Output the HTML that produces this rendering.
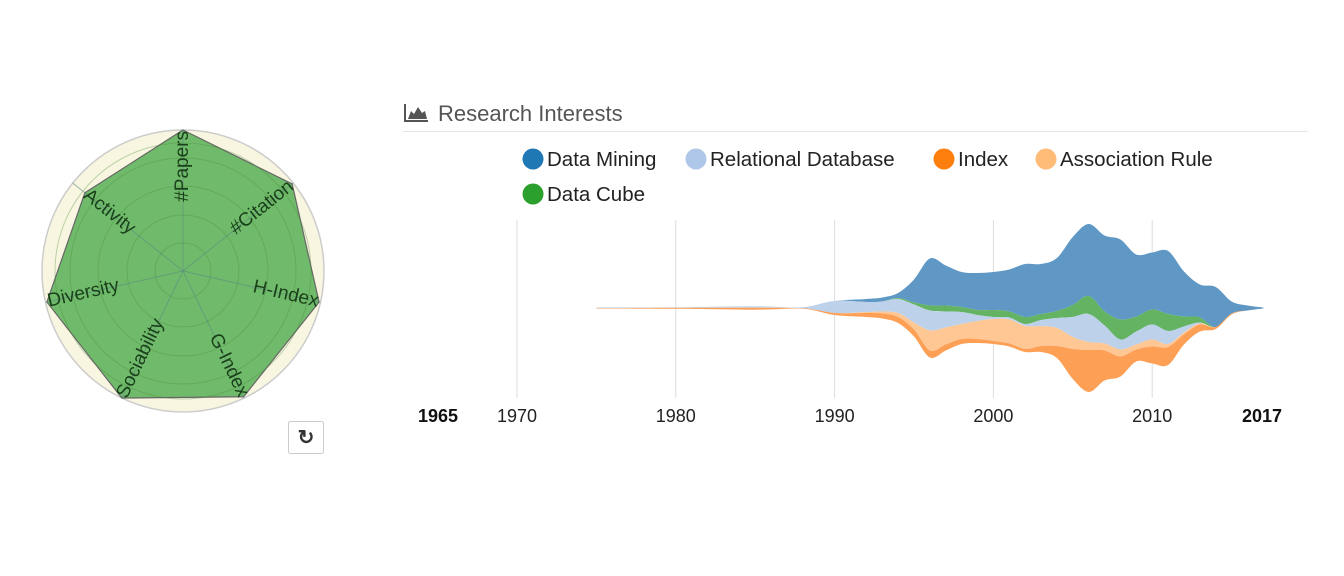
<!DOCTYPE html>
<html><head><meta charset="utf-8"><style>
body{margin:0;width:1344px;height:576px;background:#fff;overflow:hidden;font-family:"Liberation Sans",sans-serif}
svg{position:absolute;left:0;top:0}
</style></head><body>
<svg id="s" width="1344" height="576">
<g id="radar"></g>
<g>
<rect x="288.5" y="421.5" width="35" height="32" rx="2" fill="#fff" stroke="#ccc"/>
<text x="306" y="444" text-anchor="middle" font-size="20" font-weight="bold" fill="#333">↻</text>
</g>
<g>
<path d="M404 104 V122 H428 V120 H406 V104 Z M408 119 L411 111 L414 114 L418 107 L422 113 L425 111 L427 119 Z" fill="#555"/>
<text x="438" y="121" font-size="22" fill="#555">Research Interests</text>
<line x1="403" y1="131.5" x2="1308" y2="131.5" stroke="#e5e5e5"/>
</g>
<g id="legend"></g>
<g id="stream"></g>
</svg>
<script>
const NS='http://www.w3.org/2000/svg';
function mk(p,t,a){const e=document.createElementNS(NS,t);for(const k in a)e.setAttribute(k,a[k]);p.appendChild(e);return e;}
// radar data
const radarAxes=['#Papers','#Citation','H-Index','G-Index','Sociability','Diversity','Activity'];
const radarValues=[1.0,0.99,0.99,0.99,1.0,0.99,0.89];
// stream data
const years=[1975,1980,1985,1988,1990,1992,1993,1994,1995,1996,1997,1998,1999,2000,2001,2002,2003,2004,2005,2006,2007,2008,2009,2010,2011,2012,2013,2014,2015,2016,2017];
const dataMining=[0,0,0,0,0,3,4,5,23,47,40,35,37,38,42,53,50,53,68,72,76,80,62,57,63,45,33,40,12,5,1];
const dataCube=[0,0,0,0,0,0,0,1,2,5,6,5,5,7,6,7,6,7,12,18,14,20,15,15,17,10,5,0,0,0,0];
const relationalDb=[0.5,0.5,1.5,1,12,10,10,14,18,20,16,12,6,2,2,2,6,10,20,28,18,10,13,15,13,6,1,0,0,0,0];
const associationRule=[0,0,0,0,0,1,2,4,7,20,17,15,18,22,24,23,20,18,12,8,7,7,5,7,3,2,1,0,0,0,0];
const indexSeries=[0.5,1,2,0.5,2,4,5,6,7,7,6,5,4,3,3,3,6,12,30,42,30,20,12,17,18,10,7,2,1,0,0];
const tickYears=[1970,1980,1990,2000,2010];
const edgeLabels=['1965','2017'];

// radar
const R=document.getElementById('radar');
const cx=183,cy=271,rad=141;
mk(R,'circle',{cx,cy,r:rad,fill:'#f8f6e0',stroke:'#ccc','stroke-width':1.5});
function pt(i,r){const a=i*2*Math.PI/7;return [cx+r*Math.sin(a),cy-r*Math.cos(a)];}
const poly=radarValues.map((v,i)=>pt(i,v*rad).join(',')).join(' ');
const pg=mk(R,'polygon',{points:poly,fill:'#5cb35a','fill-opacity':0.88,stroke:'#666','stroke-width':1.2});


[28,56,85,113,128].forEach(r=>mk(R,'circle',{cx,cy,r,fill:'none',stroke:'#4a8a3a','stroke-opacity':0.35}));
radarAxes.forEach((n,i)=>{const p=pt(i,rad);mk(R,'line',{x1:cx,y1:cy,x2:p[0],y2:p[1],stroke:'#5a8a80','stroke-opacity':0.6});});
radarAxes.forEach((n,i)=>{const deg=i*360/7;const p=pt(i,radarValues[i]*rad-1);
 const right=deg<180;const rot=right?deg-90:deg+90;
 const t=mk(R,'text',{x:p[0],y:p[1],'text-anchor':right?'end':'start','font-size':19,fill:'#1a401a','dominant-baseline':'middle',transform:`rotate(${rot} ${p[0]} ${p[1]})`});
 t.textContent=n;
 
 });

// legend
const L=document.getElementById('legend');
const leg=[['Data Mining','#1f77b4',533,159],['Relational Database','#aec7e8',696,159],['Index','#ff7f0e',944,159],['Association Rule','#ffbb78',1046,159],['Data Cube','#2ca02c',533,194]];
leg.forEach(l=>{const g=mk(L,'g',{});
 
 
 mk(g,'circle',{cx:l[2],cy:l[3],r:10.5,fill:l[1]});const t=mk(g,'text',{x:l[2]+14,y:l[3]+7,'font-size':20.5,fill:'#222'});t.textContent=l[0];});

// stream
const S=document.getElementById('stream');
const xs=y=>517+(y-1970)*15.88;const base=308;
tickYears.forEach(y=>{const l=mk(S,'line',{x1:xs(y),y1:220,x2:xs(y),y2:398,stroke:'#ddd'});
 
 });
const order=[['data-mining',dataMining,'#5f97c5'],['data-cube',dataCube,'#63b363'],['relational-database',relationalDb,'#bdd2ea'],['association-rule',associationRule,'#fec794'],['index',indexSeries,'#fd9f55']];
const tot=years.map((_,i)=>order.reduce((s,o)=>s+o[1][i],0));
let stackTop=years.map((_,i)=>base-tot[i]/2);
function curve(P){let d='';for(let i=0;i<P.length-1;i++){const p0=P[Math.max(0,i-1)],p1=P[i],p2=P[i+1],p3=P[Math.min(P.length-1,i+2)];
 const c1=[p1[0]+(p2[0]-p0[0])/6,p1[1]+(p2[1]-p0[1])/6],c2=[p2[0]-(p3[0]-p1[0])/6,p2[1]-(p3[1]-p1[1])/6];
 d+=` C${c1[0]},${c1[1]} ${c2[0]},${c2[1]} ${p2[0]},${p2[1]}`;}return d;}
order.forEach(o=>{const bot=stackTop.map((t,i)=>t+o[1][i]);
 const A=years.map((y,i)=>[xs(y),stackTop[i]]),B=years.map((y,i)=>[xs(y),bot[i]]).reverse();
 const d='M'+A[0].join(',')+curve(A)+' L'+B[0].join(',')+curve(B)+'Z';
 const p=mk(S,'path',{d,fill:o[2]});
 
 
 stackTop=bot;});
tickYears.forEach(y=>{const t=mk(S,'text',{x:xs(y),y:422,'text-anchor':'middle','font-size':18,fill:'#222','font-family':'"Liberation Sans Narrow","Liberation Sans",sans-serif'});t.textContent=y;
 
 });
[[438,edgeLabels[0]],[1262,edgeLabels[1]]].forEach(e=>{const t=mk(S,'text',{x:e[0],y:422,'text-anchor':'middle','font-size':18,'font-weight':'bold',fill:'#111','font-family':'"Liberation Sans Narrow","Liberation Sans",sans-serif'});t.textContent=e[1];
 
 });
</script>
</body></html>
